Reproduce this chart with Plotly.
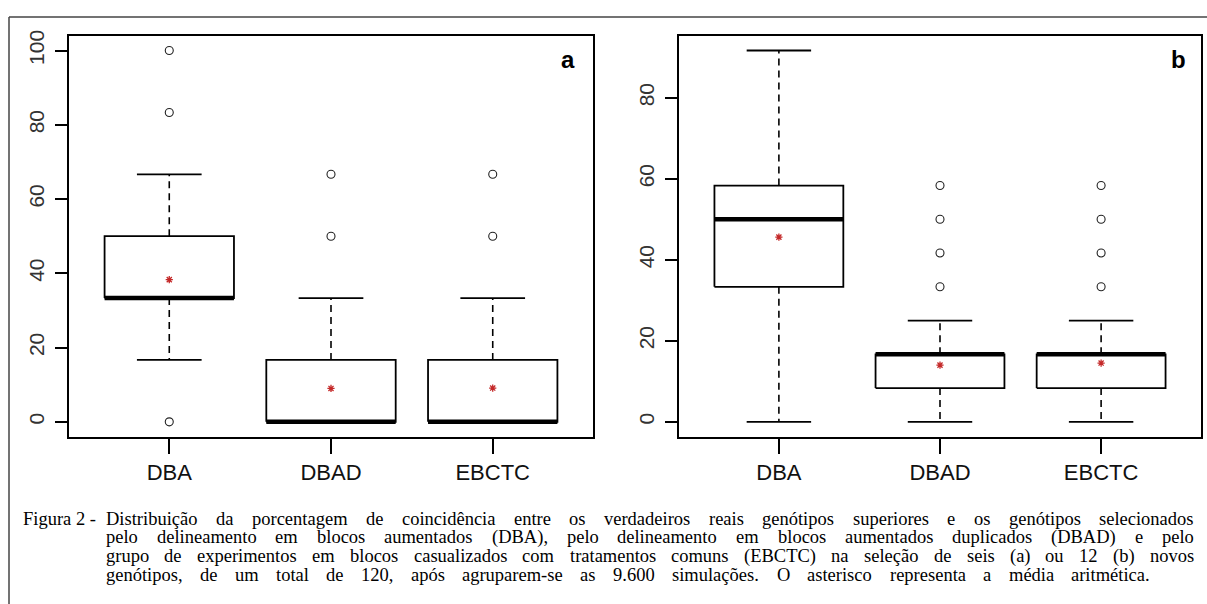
import plotly.graph_objects as go

W, H = 1207, 604

categories = ["DBA", "DBAD", "EBCTC"]

# Panel a (selection of six genotypes)
a_q1 = [33.33, 0.0, 0.0]
a_median = [33.33, 0.0, 0.0]
a_q3 = [50.0, 16.67, 16.67]
a_low = [16.67, 0.0, 0.0]
a_high = [66.67, 33.33, 33.33]
a_mean = [38.3, 9.0, 9.1]
a_outliers = [[0.0, 83.33, 100.0], [50.0, 66.67], [50.0, 66.67]]
a_ticks = [0, 20, 40, 60, 80, 100]

# Panel b (selection of 12 genotypes)
b_q1 = [33.33, 8.33, 8.33]
b_median = [50.0, 16.67, 16.67]
b_q3 = [58.33, 16.67, 16.67]
b_low = [0.0, 0.0, 0.0]
b_high = [91.67, 25.0, 25.0]
b_mean = [45.6, 14.0, 14.5]
b_outliers = [[], [33.33, 41.67, 50.0, 58.33], [33.33, 41.67, 50.0, 58.33]]
b_ticks = [0, 20, 40, 60, 80]

panel_labels = ["a", "b"]

caption_label = "Figura 2 -"
caption_lines = [
    "Distribuição da porcentagem de coincidência entre os verdadeiros reais genótipos superiores e os genótipos selecionados",
    "pelo delineamento em blocos aumentados (DBA), pelo delineamento em blocos aumentados duplicados (DBAD) e pelo",
    "grupo de experimentos em blocos casualizados com tratamentos comuns (EBCTC) na seleção de seis (a) ou 12 (b) novos",
    "genótipos, de um total de 120, após agruparem-se as 9.600 simulações. O asterisco representa a média aritmética.",
]

fig = go.Figure()

BOX_HALF = 0.4
CAP_HALF = 0.2


def add_panel(xref, yref, q1, med, q3, lo, hi, mean, outl):
    wx, wy, cx, cy, bx, by, mx, my = [], [], [], [], [], [], [], []
    ox, oy = [], []
    for i in range(len(categories)):
        x = i + 1
        wx += [x, x, None, x, x, None]
        wy += [q3[i], hi[i], None, q1[i], lo[i], None]
        cx += [x - CAP_HALF, x + CAP_HALF, None, x - CAP_HALF, x + CAP_HALF, None]
        cy += [hi[i], hi[i], None, lo[i], lo[i], None]
        bx += [x - BOX_HALF, x + BOX_HALF, x + BOX_HALF, x - BOX_HALF, x - BOX_HALF, None]
        by += [q1[i], q1[i], q3[i], q3[i], q1[i], None]
        mx += [x - BOX_HALF, x + BOX_HALF, None]
        my += [med[i], med[i], None]
        for v in outl[i]:
            ox.append(x)
            oy.append(v)
    common = dict(xaxis=xref, yaxis=yref, showlegend=False, hoverinfo="skip")
    fig.add_trace(go.Scatter(x=wx, y=wy, mode="lines",
                             line=dict(color="black", width=1.6, dash="7px,5px"), **common))
    fig.add_trace(go.Scatter(x=cx, y=cy, mode="lines",
                             line=dict(color="black", width=1.8), **common))
    fig.add_trace(go.Scatter(x=bx, y=by, mode="lines",
                             line=dict(color="black", width=1.8), **common))
    fig.add_trace(go.Scatter(x=mx, y=my, mode="lines",
                             line=dict(color="black", width=4.5), **common))
    fig.add_trace(go.Scatter(x=ox, y=oy, mode="markers",
                             marker=dict(symbol="circle-open", size=8, color="#222",
                                         line=dict(width=1.1, color="#222")), **common))
    fig.add_trace(go.Scatter(x=[i + 1 for i in range(len(categories))], y=mean, mode="markers",
                             marker=dict(symbol="asterisk-open", size=6, color="#c42828",
                                         line=dict(width=1.3, color="#c42828")), **common))


add_panel("x", "y", a_q1, a_median, a_q3, a_low, a_high, a_mean, a_outliers)
add_panel("x2", "y2", b_q1, b_median, b_q3, b_low, b_high, b_mean, b_outliers)

ydom = [1 - 435 / H, 1 - 30 / H]
axis_common = dict(showline=True, mirror=True, linewidth=2, linecolor="black",
                   showgrid=False, zeroline=False, ticks="outside", tickwidth=1.5,
                   tickcolor="black")
xfont = dict(family="Liberation Sans, Arial", size=22, color="#111")
yfont = dict(family="Liberation Sans, Arial", size=21, color="#333")

fig.update_layout(
    width=W, height=H,
    margin=dict(l=0, r=0, t=0, b=0),
    paper_bgcolor="white", plot_bgcolor="white",
    xaxis=dict(domain=[69 / W, 593 / W], range=[0.38, 3.62], tickvals=[1, 2, 3],
               ticktext=categories, ticklen=15, tickfont=xfont, anchor="y", **axis_common),
    yaxis=dict(domain=ydom, range=[-4, 104], tickvals=a_ticks, tickangle=-90,
               ticklen=12, ticklabelstandoff=3, tickfont=yfont, anchor="x", **axis_common),
    xaxis2=dict(domain=[679 / W, 1201 / W], range=[0.38, 3.62], tickvals=[1, 2, 3],
                ticktext=categories, ticklen=15, tickfont=xfont, anchor="y2", **axis_common),
    yaxis2=dict(domain=ydom, range=[-3.667, 95.33], tickvals=b_ticks, tickangle=-90,
                ticklen=12, ticklabelstandoff=3, tickfont=yfont, anchor="x2", **axis_common),
)

# outer frame (top and left edges visible)
fig.add_shape(type="line", xref="paper", yref="paper", x0=9 / W, x1=1.0,
              y0=1 - 11 / H, y1=1 - 11 / H, line=dict(color="#444", width=1.5))
fig.add_shape(type="line", xref="paper", yref="paper", x0=9 / W, x1=9 / W,
              y0=0.0, y1=1 - 11 / H, line=dict(color="#444", width=1.5))

# panel letters
for lab, px in zip(panel_labels, [568, 1178]):
    fig.add_annotation(text="<b>%s</b>" % lab, xref="paper", yref="paper",
                       x=px / W, y=1 - 54 / H, xanchor="center", yanchor="middle",
                       showarrow=False, borderpad=0,
                       font=dict(family="Liberation Sans, Arial", size=24, color="black"))

# caption (justified, word by word) -- Times New Roman / Liberation Serif metrics
TW = {" ": 250, "(": 333, ")": 333, ",": 250, ".": 250, "-": 333,
      "A": 722, "B": 667, "C": 667, "D": 722, "E": 611, "F": 556, "O": 722, "T": 611,
      "a": 444, "b": 500, "c": 444, "d": 500, "e": 444, "f": 333, "g": 500, "h": 500,
      "i": 278, "j": 278, "k": 500, "l": 278, "m": 778, "n": 500, "o": 500, "p": 500,
      "q": 500, "r": 333, "s": 389, "t": 278, "u": 500, "v": 500, "w": 722, "x": 500,
      "y": 500, "z": 444, "ç": 444, "ã": 444, "á": 444, "é": 444, "ê": 444, "í": 278,
      "ó": 500}
FS = 18.5
cap_font = dict(family="Liberation Serif, Times New Roman", size=FS, color="black")


def word_w(w):
    return sum(TW.get(ch, 500) for ch in w) * FS / 1000.0


baselines = [524, 543, 562, 581]
line_left = 105
line_right = [1193, 1193, 1193, 1149]
yoff = 0.3375 * FS

fig.add_annotation(text=caption_label, xref="paper", yref="paper", x=22 / W,
                   y=1 - (baselines[0] - yoff) / H, xanchor="left", yanchor="middle",
                   showarrow=False, borderpad=0, font=cap_font)

for line, base, right in zip(caption_lines, baselines, line_right):
    words = line.split(" ")
    widths = [word_w(w) for w in words]
    gap = (right - line_left - sum(widths)) / (len(words) - 1)
    xpos = line_left
    for w, ww in zip(words, widths):
        fig.add_annotation(text=w, xref="paper", yref="paper", x=xpos / W,
                           y=1 - (base - yoff) / H, xanchor="left", yanchor="middle",
                           showarrow=False, borderpad=0, font=cap_font)
        xpos += ww + gap

fig.write_html("out.html", config={"displayModeBar": False},
               post_script="document.body.style.margin='0';")
